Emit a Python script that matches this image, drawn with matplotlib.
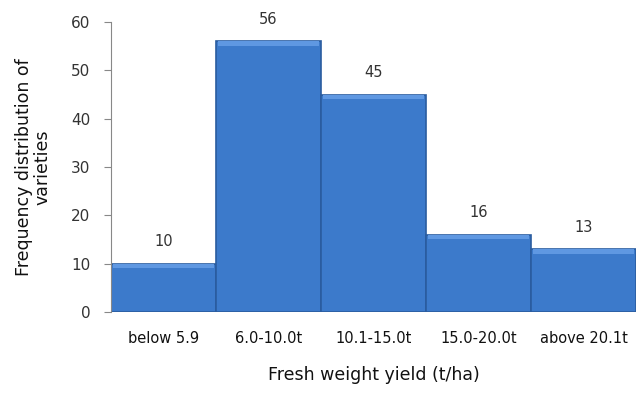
import numpy as np
import matplotlib.pyplot as plt

# yield classes and number of varieties in each
classes = ['below 5.9', '6.0-10.0t', '10.1-15.0t', '15.0-20.0t', 'above 20.1t']
counts = [10, 56, 45, 16, 13]

plt.rcParams['font.family'] = ['DejaVu Sans']

fig = plt.figure(figsize=(6.36, 3.93), dpi=100)
ax = fig.add_axes([0.1745, 0.206, 0.8255, 0.738])

x = np.arange(len(classes))
bars = ax.bar(x, counts, width=1.0, color='#3c7acb',
              edgecolor='#2a5c9f', linewidth=1.2, zorder=2)

# lighter bevel strip along each bar top
for bar in bars:
    h = bar.get_height()
    ax.bar(bar.get_x() + bar.get_width() / 2, 0.9, bottom=h - 0.9,
           width=bar.get_width() * 0.97, color='#5f98e2', linewidth=0, zorder=3)

for xi, c in zip(x, counts):
    ax.annotate(str(c), (xi, c), xytext=(0, 22), textcoords='offset pixels',
                ha='center', va='center', fontsize=10.5, color='#333333')

ax.set_xlim(-0.5, len(classes) - 0.5)
ax.set_ylim(0, 60)
ax.set_yticks(range(0, 61, 10))
ax.set_xticks(x)
ax.set_xticklabels(classes)

ax.tick_params(axis='y', length=5, color='#888888', labelsize=11,
               labelcolor='#333333', pad=10)
ax.tick_params(axis='x', length=0, labelsize=10.5, labelcolor='#111111', pad=14)

for side in ['top', 'right', 'bottom']:
    ax.spines[side].set_visible(False)
ax.spines['left'].set_color('#888888')

ax.set_xlabel('Fresh weight yield (t/ha)', fontsize=12.5, color='#111111', labelpad=14)
ax.set_ylabel('Frequency distribution of\nvarieties', fontsize=12.5,
              color='#111111', labelpad=14, linespacing=1.05)

fig.savefig('out.png', dpi=100)
